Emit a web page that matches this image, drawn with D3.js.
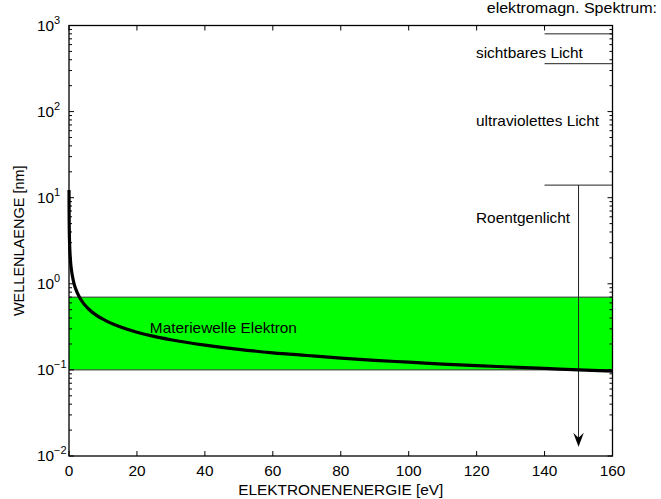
<!DOCTYPE html>
<html>
<head>
<meta charset="utf-8">
<script src="https://cdn.jsdelivr.net/npm/d3@7"></script>
<style>
  body { margin: 0; background: #fff; }
  text { font-family: "Liberation Sans", Arial, sans-serif; fill: #000; font-size: 14px; }
</style>
</head>
<body>
<svg id="chart" width="661" height="499"></svg>
<script>
// electron matter wave
const energy = [0.01, 0.02, 0.05, 0.1, 0.2, 0.3, 0.5, 0.7, 1, 1.5, 2, 3, 4, 5, 6, 8, 10, 12, 15, 20, 25, 30, 40, 50, 60, 70, 80, 90, 100, 110, 120, 130, 140, 150, 160];
const wavelength = [12.3, 8.67, 5.48, 3.88, 2.74, 2.24, 1.73, 1.47, 1.23, 1.0, 0.867, 0.708, 0.613, 0.548, 0.5, 0.433, 0.388, 0.354, 0.317, 0.274, 0.245, 0.224, 0.194, 0.173, 0.158, 0.147, 0.137, 0.129, 0.123, 0.117, 0.112, 0.108, 0.104, 0.1, 0.097];
// green band (wavelength range)
const band = [0.1, 0.7];
// spectrum borders at the right edge
const spectrumLines = [800, 360, 14];
const spectrumLabels = ['sichtbares Licht', 'ultraviolettes Licht', 'Roentgenlicht'];
const spectrumLabelAt = [420, 68, 5.1];
const arrow = { x: 150, from: 14, to: 0.0128 };
const curveLabel = { text: 'Materiewelle Elektron', x: 23.8, y: 0.27 };
const xTicks = [0, 20, 40, 60, 80, 100, 120, 140, 160];
const yDecades = [-2, -1, 0, 1, 2, 3];

const svg = d3.select('#chart');
const mLeft = 69, mRight = 612.5, mTop = 25.5, mBottom = 456;
const stretch = 1.1;

const x = d3.scaleLinear().domain([0, 160]).range([mLeft, mRight]);
const y = d3.scaleLog().domain([1e-2, 1e3]).range([mBottom, mTop]);

function addText(px, py, str, anchor) {
    return svg.append('text')
        .attr('transform', `translate(${px},${py}) scale(${stretch},1)`)
        .attr('text-anchor', anchor || 'start')
        .text(str);
}

// band
svg.append('rect')
    .attr('x', x(0))
    .attr('y', y(band[1]))
    .attr('width', x(160) - x(0))
    .attr('height', y(band[0]) - y(band[1]))
    .style('fill', '#00ff00');
band.forEach(b => {
    svg.append('line')
        .attr('x1', x(0)).attr('x2', x(160))
        .attr('y1', y(b)).attr('y2', y(b))
        .style('stroke', '#333').style('stroke-width', 1);
});

// spectrum marks
spectrumLines.forEach(v => {
    svg.append('line')
        .attr('x1', x(140)).attr('x2', x(160))
        .attr('y1', y(v)).attr('y2', y(v))
        .style('stroke', '#222').style('stroke-width', 1);
});
svg.append('line')
    .attr('x1', x(arrow.x)).attr('x2', x(arrow.x))
    .attr('y1', y(arrow.from)).attr('y2', y(arrow.to) - 4)
    .style('stroke', '#222').style('stroke-width', 1);
let ax = x(arrow.x), ay = y(arrow.to);
svg.append('path')
    .attr('d', `M${ax},${ay} L${ax - 5.3},${ay - 14} L${ax},${ay - 9} L${ax + 5.3},${ay - 14} Z`)
    .style('fill', '#000');

// curve
const line = d3.line()
    .x((d, i) => x(energy[i]))
    .y(d => y(d))
    .curve(d3.curveMonotoneX);
svg.append('path')
    .datum(wavelength)
    .attr('d', line)
    .style('fill', 'none')
    .style('stroke', '#000')
    .style('stroke-width', 3.2)
    .style('stroke-linejoin', 'round');

// frame
svg.append('rect')
    .attr('x', mLeft).attr('y', mTop)
    .attr('width', mRight - mLeft).attr('height', mBottom - mTop)
    .style('fill', 'none').style('stroke', '#000').style('stroke-width', 1.3);

// x ticks (inward, top and bottom)
xTicks.forEach(t => {
    svg.append('line').attr('x1', x(t)).attr('x2', x(t)).attr('y1', mBottom).attr('y2', mBottom - 5)
        .style('stroke', '#000');
    svg.append('line').attr('x1', x(t)).attr('x2', x(t)).attr('y1', mTop).attr('y2', mTop + 5)
        .style('stroke', '#000');
    addText(x(t), mBottom + 20, t, 'middle');
});

// y ticks (log, inward, left and right)
yDecades.forEach(d => {
    const v = Math.pow(10, d);
    [mLeft, mRight].forEach((edge, k) => {
        const s = k === 0 ? 1 : -1;
        svg.append('line').attr('x1', edge).attr('x2', edge + s * 5)
            .attr('y1', y(v)).attr('y2', y(v)).style('stroke', '#000');
        if (d < 3) {
            for (let m = 2; m <= 9; m++) {
                svg.append('line').attr('x1', edge).attr('x2', edge + s * 3)
                    .attr('y1', y(m * v)).attr('y2', y(m * v)).style('stroke', '#000');
            }
        }
    });
    const lbl = addText(37, y(v) + 5, null, 'start');
    lbl.append('tspan').text('10');
    lbl.append('tspan')
        .attr('dy', -7)
        .style('font-size', '10px')
        .text(d < 0 ? '\u2212' + (-d) : d);
});

// axis titles
addText((mLeft + mRight) / 2, 495, 'ELEKTRONENENERGIE [eV]', 'middle');
svg.append('text')
    .attr('transform', `translate(24,${(mTop + mBottom) / 2}) rotate(-90)`)
    .attr('text-anchor', 'middle')
    .style('font-size', '14.5px')
    .text('WELLENLAENGE [nm]');

// annotations
addText(657, 13, 'elektromagn. Spektrum:', 'end').style('font-size', '14.6px');
spectrumLabels.forEach((l, i) => {
    addText(476, y(spectrumLabelAt[i]), l);
});
addText(x(curveLabel.x), y(curveLabel.y), curveLabel.text);
</script>
</body>
</html>
